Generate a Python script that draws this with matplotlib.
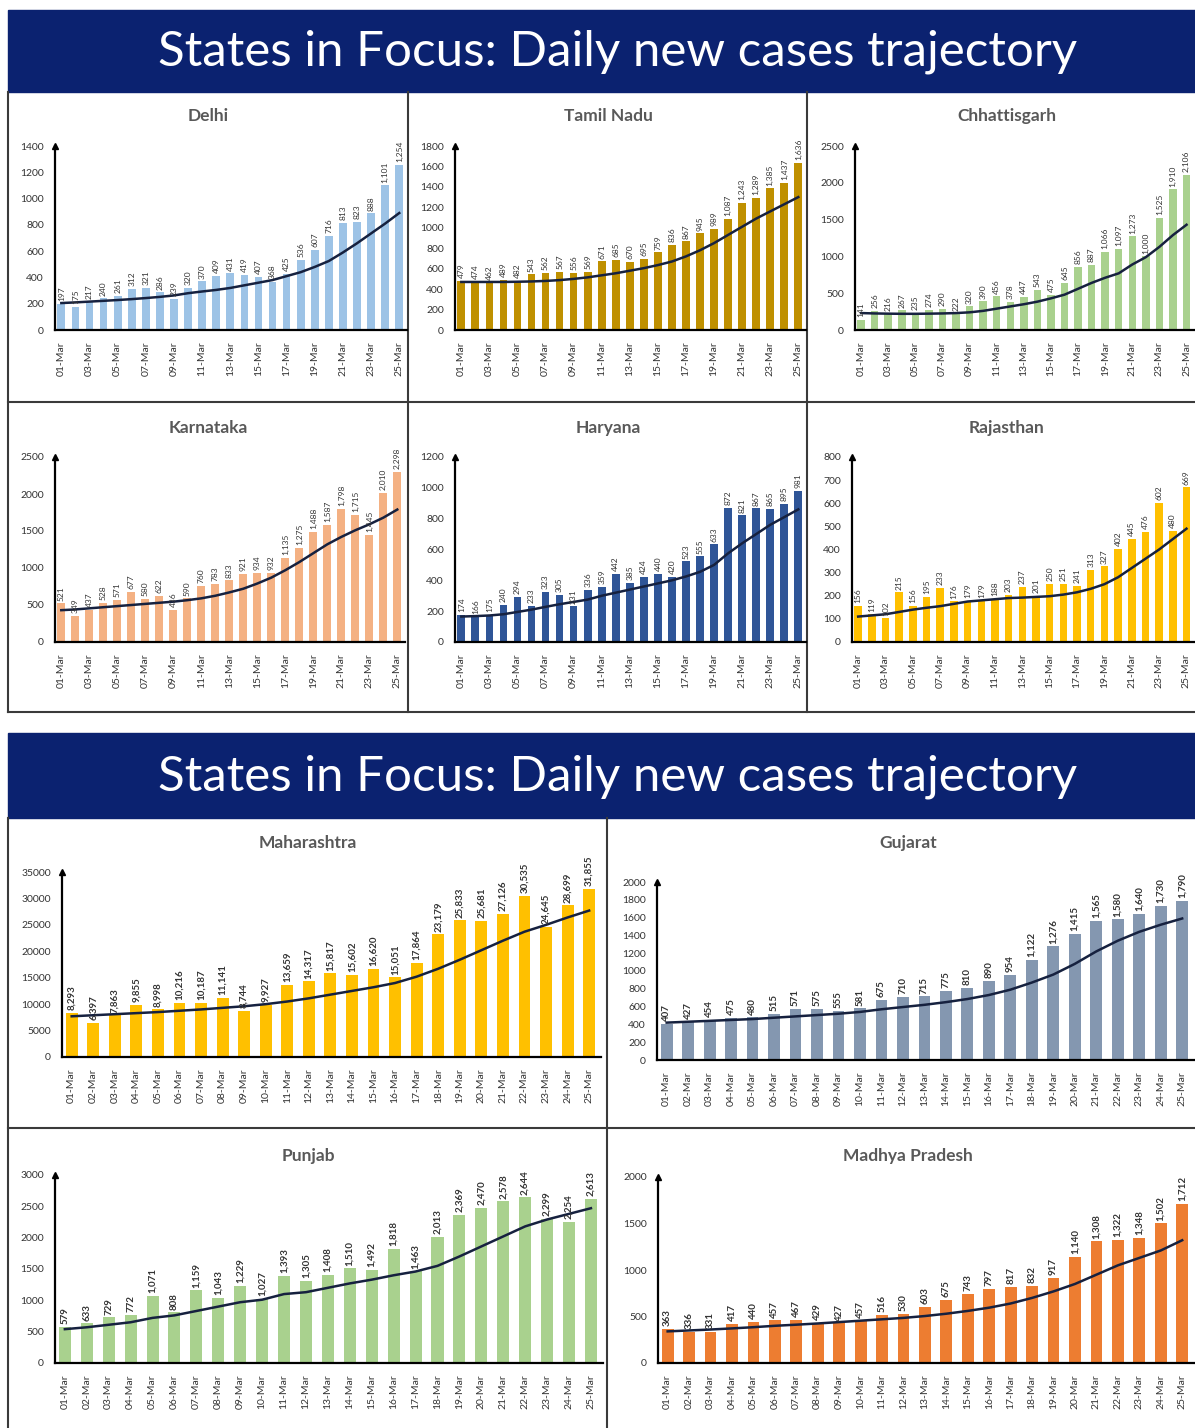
import matplotlib
matplotlib.use("Agg")
import matplotlib.pyplot as plt
import numpy as np

plt.rcParams['font.family'] = ['Lato', 'DejaVu Sans']

W, H = 1195, 1428
days = ["%02d-Mar" % d for d in range(1, 26)]

# bar values (daily new cases)
delhi = [197, 175, 217, 240, 261, 312, 321, 286, 239, 320, 370, 409, 431, 419, 407, 368, 425, 536, 607, 716, 813, 823, 888, 1101, 1254]
tamil_nadu = [479, 474, 462, 489, 482, 543, 562, 567, 556, 569, 671, 685, 670, 695, 759, 836, 867, 945, 989, 1087, 1243, 1289, 1385, 1437, 1636]
chhattisgarh = [141, 256, 216, 267, 235, 274, 290, 222, 320, 390, 456, 378, 447, 543, 475, 645, 856, 887, 1066, 1097, 1273, 1000, 1525, 1910, 2106]
karnataka = [521, 349, 437, 528, 571, 677, 580, 622, 436, 590, 760, 783, 833, 921, 934, 932, 1135, 1275, 1488, 1587, 1798, 1715, 1445, 2010, 2298]
haryana = [174, 166, 175, 240, 294, 233, 323, 305, 231, 336, 359, 442, 385, 424, 440, 420, 523, 555, 633, 872, 821, 867, 865, 895, 981]
rajasthan = [156, 119, 102, 215, 156, 195, 233, 176, 179, 179, 188, 203, 237, 201, 250, 251, 241, 313, 327, 402, 445, 476, 602, 480, 669]
maharashtra = [8293, 6397, 7863, 9855, 8998, 10216, 10187, 11141, 8744, 9927, 13659, 14317, 15817, 15602, 16620, 15051, 17864, 23179, 25833, 25681, 27126, 30535, 24645, 28699, 31855]
gujarat = [407, 427, 454, 475, 480, 515, 571, 575, 555, 581, 675, 710, 715, 775, 810, 890, 954, 1122, 1276, 1415, 1565, 1580, 1640, 1730, 1790]
punjab = [579, 633, 729, 772, 1071, 808, 1159, 1043, 1229, 1027, 1393, 1305, 1408, 1510, 1492, 1818, 1463, 2013, 2369, 2470, 2578, 2644, 2299, 2254, 2613]
madhya_pradesh = [363, 336, 331, 417, 440, 457, 467, 429, 427, 457, 516, 530, 603, 675, 743, 797, 817, 832, 917, 1140, 1308, 1322, 1348, 1502, 1712]

# trend lines
delhi_trend = [205, 210, 216, 222, 228, 235, 243, 252, 263, 280, 293, 305, 320, 340, 360, 380, 410, 440, 480, 525, 590, 660, 735, 810, 890]
tamil_nadu_trend = [470, 470, 470, 470, 472, 475, 480, 488, 500, 515, 535, 555, 580, 605, 635, 670, 720, 780, 850, 930, 1010, 1090, 1160, 1230, 1300]
chhattisgarh_trend = [230, 225, 222, 220, 220, 222, 225, 230, 240, 260, 290, 320, 350, 385, 430, 480, 560, 640, 710, 770, 890, 990, 1130, 1290, 1430]
karnataka_trend = [430, 440, 455, 470, 485, 500, 515, 530, 545, 565, 590, 625, 670, 720, 790, 870, 970, 1080, 1200, 1320, 1420, 1510, 1590, 1680, 1790]
haryana_trend = [165, 168, 172, 180, 195, 210, 228, 245, 260, 275, 300, 320, 340, 360, 380, 400, 425, 455, 500, 575, 640, 700, 760, 810, 860]
rajasthan_trend = [110, 115, 120, 130, 140, 148, 155, 165, 175, 180, 185, 190, 192, 195, 198, 205, 215, 230, 250, 280, 320, 360, 400, 445, 490]
maharashtra_trend = [7700, 7900, 8100, 8300, 8500, 8750, 9000, 9300, 9600, 10000, 10500, 11100, 11800, 12500, 13200, 14000, 15200, 16700, 18400, 20200, 22000, 23700, 25000, 26400, 27700]
gujarat_trend = [420, 430, 440, 450, 460, 475, 490, 505, 520, 540, 570, 595, 620, 650, 685, 730, 790, 870, 960, 1080, 1220, 1340, 1440, 1520, 1590]
punjab_trend = [540, 570, 610, 650, 720, 760, 830, 900, 970, 1010, 1100, 1130, 1200, 1270, 1330, 1400, 1460, 1550, 1700, 1860, 2020, 2180, 2290, 2380, 2470]
madhya_pradesh_trend = [340, 350, 360, 372, 385, 400, 412, 425, 440, 455, 470, 485, 505, 530, 560, 595, 640, 700, 770, 850, 950, 1050, 1130, 1210, 1320]


def rect(x0, y0, x1, y1):
    return [x0 / W, 1 - y1 / H, (x1 - x0) / W, (y1 - y0) / H]


fig = plt.figure(figsize=(W / 100, H / 100), dpi=100)

# background layer in pixel coords for banners and panel borders
bg = fig.add_axes([0, 0, 1, 1])
bg.set_xlim(0, W)
bg.set_ylim(H, 0)
bg.axis('off')
navy = '#0b2270'
for y0, y1 in [(10, 92), (733, 818)]:
    bg.add_patch(plt.Rectangle((8, y0), W - 8, y1 - y0, color=navy, zorder=1))
    bg.text(618, (y0 + y1) / 2 + 1, "States in Focus: Daily new cases trajectory",
            color='white', fontsize=35.5, ha='center', va='center', zorder=2)
border = dict(color='#3a3a3a', lw=1.5, zorder=2)
bg.plot([8, 8], [92, 712], **border)
bg.plot([8, W], [712, 712], **border)
bg.plot([408, 408], [92, 712], **border)
bg.plot([807, 807], [92, 712], **border)
bg.plot([8, W], [402, 402], **border)
bg.plot([8, 8], [818, H], **border)
bg.plot([607, 607], [818, H], **border)
bg.plot([8, W], [1128, 1128], **border)

panels = [
    ("Delhi", delhi, delhi_trend, '#9dc3e6', (55, 146, 407, 330), 1400, 200, 2, (208, 116)),
    ("Tamil Nadu", tamil_nadu, tamil_nadu_trend, '#bf9000', (455, 146, 806, 330), 1800, 200, 2, (608, 116)),
    ("Chhattisgarh", chhattisgarh, chhattisgarh_trend, '#a9d18e', (855, 146, 1194, 330), 2500, 500, 2, (1007, 116)),
    ("Karnataka", karnataka, karnataka_trend, '#f4b183', (55, 457, 405, 642), 2500, 500, 2, (208, 428)),
    ("Haryana", haryana, haryana_trend, '#2f5597', (455, 457, 806, 642), 1200, 200, 2, (608, 428)),
    ("Rajasthan", rajasthan, rajasthan_trend, '#ffc000', (852, 457, 1194, 642), 800, 100, 2, (1007, 428)),
    ("Maharashtra", maharashtra, maharashtra_trend, '#ffc000', (62, 872, 601, 1057), 35000, 5000, 1, (308, 843)),
    ("Gujarat", gujarat, gujarat_trend, '#8497b0', (657, 882, 1194, 1060), 2000, 200, 1, (908, 843)),
    ("Punjab", punjab, punjab_trend, '#a9d18e', (55, 1175, 603, 1363), 3000, 500, 1, (308, 1156)),
    ("Madhya Pradesh", madhya_pradesh, madhya_pradesh_trend, '#ed7d31', (658, 1177, 1194, 1363), 2000, 500, 1, (908, 1156)),
]

for name, vals, trend, color, box, ymax, ystep, every, tpos in panels:
    ax = fig.add_axes(rect(*box))
    x = np.arange(len(vals))
    bars = ax.bar(x, vals, width=0.55, color=color, zorder=2)
    ax.plot(x, trend, color='#16213f', lw=1.8, zorder=3)
    big = every == 1
    ax.bar_label(bars, labels=["{:,}".format(v) for v in vals], rotation=90, padding=2,
                 fontsize=7 if big else 6, color='#333333',
                 fontweight='bold' if big else 'normal')
    ax.set_xlim(-0.45, len(vals) - 0.45)
    ax.set_ylim(0, ymax)
    ax.set_yticks(np.arange(0, ymax + 1, ystep))
    ax.set_xticks(x[::every])
    ax.set_xticklabels(days[::every], rotation=90)
    ax.tick_params(length=0, labelsize=7.5, colors='#333333', pad=8)
    for s in ['top', 'right']:
        ax.spines[s].set_visible(False)
    ax.spines['left'].set_linewidth(1.6)
    ax.spines['bottom'].set_linewidth(1.6)
    ax.plot(0, 1.0, marker='^', markersize=4, color='black', transform=ax.transAxes, clip_on=False)
    ax.patch.set_alpha(0)
    bg.text(tpos[0], tpos[1], name, fontsize=12.5, fontweight='bold', color='#595959',
            ha='center', va='center')

fig.savefig("out.png", dpi=100)
